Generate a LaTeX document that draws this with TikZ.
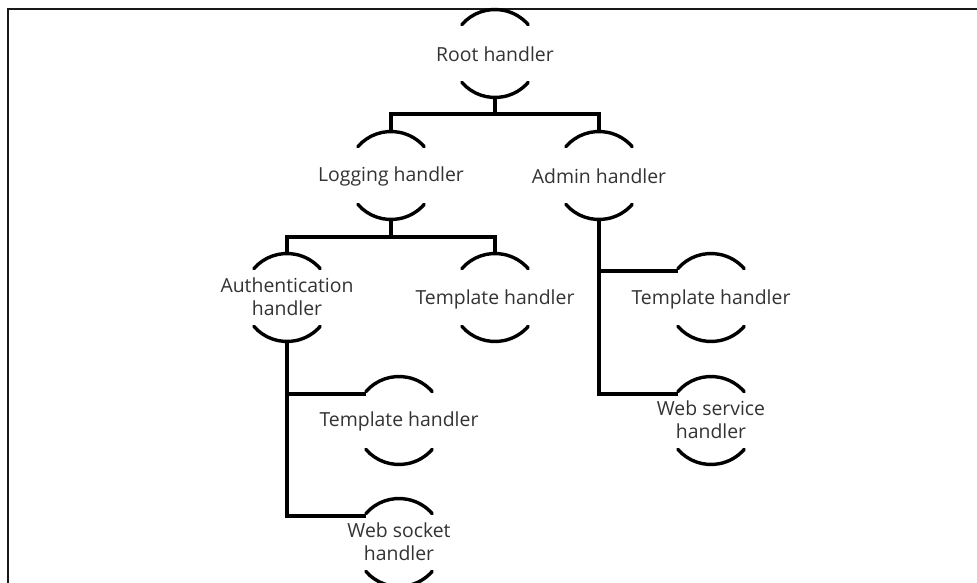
\documentclass[tikz,border=0pt]{standalone}
\usepackage{fontspec}
\setmainfont{Open Sans}
\usetikzlibrary{calc}
\tikzset{
  hlabel/.style={align=center,inner sep=0pt,text=black!80,font=\fontsize{19.4}{23}\selectfont},
  harc/.style={line width=3.4pt,line cap=round},
  link/.style={line width=4pt,line join=miter},
  frameline/.style={line width=1.6pt,black!90}
}
% name, x, y, text offset, text (picture pixels, y downward)
\newcommand{\hnode}[5]{%
  \node[hlabel] (#1) at (#2,#3+#4) {#5};
  \coordinate (#1-c) at (#2,#3);
  \coordinate (#1-t) at (#2,#3-44);
  \coordinate (#1-b) at (#2,#3+44);
  \coordinate (#1-l) at (#2-33,#3-27);
  \draw[harc] ($(#1-c)+(139:44)$) arc[start angle=139,end angle=41,radius=44];
  \draw[harc] ($(#1-c)+(-139:44)$) arc[start angle=-139,end angle=-41,radius=44];
}
\begin{document}
\begin{tikzpicture}[x=1pt,y=-1pt]
\useasboundingbox (0,0) rectangle (977,583);
\clip (0,0) rectangle (977,583);
\fill[white] (0,0) rectangle (977,583);
\coordinate (fa) at (8,583);
\coordinate (fb) at (8,9);
\coordinate (fc) at (977,9);
\draw[frameline] (fa) -- (fb) -- (fc);
\hnode{root}{495}{53.5}{0.5}{Root handler}
\hnode{log}{391}{175.5}{0.5}{Logging handler}
\hnode{admin}{599}{175.5}{0.5}{Admin handler}
\hnode{auth}{287}{297.5}{-1}{Authentication\\handler}
\hnode{tplA}{495}{297.5}{1.5}{Template handler}
\hnode{tplB}{711}{297.5}{1.5}{Template handler}
\hnode{tplC}{399}{420.5}{1}{Template handler}
\hnode{sock}{399}{542.5}{-1}{Web socket\\handler}
\hnode{serv}{711}{420.5}{-1}{Web service\\handler}
\draw[link] (root-b) -- ++(0,17) coordinate (j1);
\draw[link] (log-t) |- (j1) -| (admin-t);
\draw[link] (log-b) -- ++(0,17) coordinate (j2);
\draw[link] (auth-t) |- (j2) -| (tplA-t);
\draw[link] (admin-b) |- (tplB-l);
\draw[link] (admin-b) |- (serv-l);
\draw[link] (auth-b) |- (tplC-l);
\draw[link] (auth-b) |- (sock-l);
\end{tikzpicture}
\end{document}
